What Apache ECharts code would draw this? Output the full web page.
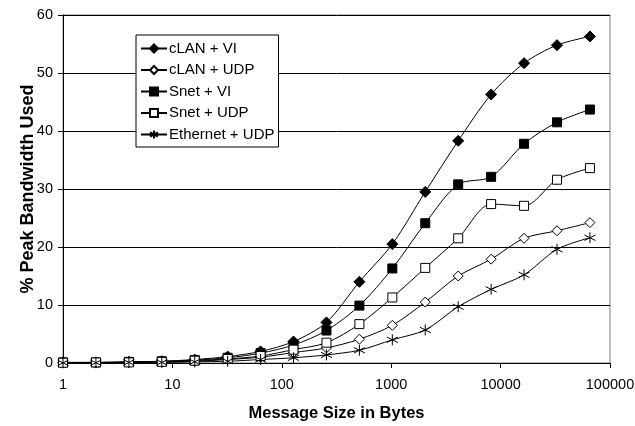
<!DOCTYPE html>
<html>
<head>
<meta charset="utf-8">
<script src="https://cdn.jsdelivr.net/npm/echarts@6/dist/echarts.min.js"></script>
<style>
  html, body { margin: 0; padding: 0; background: #fff; }
  #chart { width: 635px; height: 426px; }
</style>
</head>
<body>
<div id="chart"></div>
<script>
// Message sizes (bytes), powers of two from 1 to 64K
const sizes = [1, 2, 4, 8, 16, 32, 64, 128, 256, 512, 1024, 2048, 4096, 8192, 16384, 32768, 65536];

// % of peak bandwidth used for each transport
const clanVI     = [0.1, 0.1, 0.2, 0.3, 0.6, 1.1, 2.0, 3.7, 7.0, 14.0, 20.5, 29.5, 38.3, 46.3, 51.7, 54.8, 56.3];
const clanUDP    = [0.05, 0.05, 0.1, 0.2, 0.3, 0.6, 1.0, 1.8, 2.6, 4.1, 6.5, 10.5, 15.0, 17.9, 21.5, 22.8, 24.2];
const snetVI     = [0.1, 0.1, 0.2, 0.3, 0.5, 0.9, 1.7, 3.1, 5.6, 9.9, 16.3, 24.1, 30.8, 32.1, 37.8, 41.5, 43.7];
const snetUDP    = [0.05, 0.1, 0.1, 0.2, 0.4, 0.7, 1.2, 2.3, 3.5, 6.7, 11.3, 16.4, 21.5, 27.4, 27.1, 31.6, 33.6];
const etherUDP   = [0.03, 0.05, 0.1, 0.1, 0.2, 0.3, 0.6, 0.9, 1.4, 2.2, 4.0, 5.7, 9.7, 12.7, 15.2, 19.6, 21.6];

const seriesNames = ['cLAN + VI', 'cLAN + UDP', 'Snet + VI', 'Snet + UDP', 'Ethernet + UDP'];

const FONT = 'Liberation Sans, Arial, sans-serif';
const asterisk = 'path://M0,-5L0,5M-4.33,-2.5L4.33,2.5M-4.33,2.5L4.33,-2.5';

function pairs(vals) {
  return sizes.map((s, i) => [s, vals[i]]);
}

function lineSeries(name, vals, symbol, size, fill) {
  return {
    name: name,
    type: 'line',
    data: pairs(vals),
    smooth: 0.3,
    symbol: symbol,
    symbolSize: size,
    showAllSymbol: true,
    lineStyle: { color: '#000', width: 1 },
    itemStyle: { color: fill, borderColor: '#000', borderWidth: 1 },
    emphasis: { disabled: true },
    z: 3
  };
}

const chart = echarts.init(document.getElementById('chart'), null, { renderer: 'canvas' });

chart.setOption({
  animation: false,
  backgroundColor: '#fff',
  textStyle: { fontFamily: FONT, color: '#000' },
  grid: {
    left: 63, right: 25, top: 15, bottom: 63,
    outerBoundsMode: 'none',
    containLabel: false,
    show: true, borderColor: '#808080', borderWidth: 1, backgroundColor: 'transparent'
  },
  legend: {
    orient: 'vertical',
    left: 136, top: 35,
    data: seriesNames,
    backgroundColor: '#fff',
    borderColor: '#000',
    borderWidth: 1,
    padding: [6, 4, 5, 4],
    itemGap: 6.5,
    itemWidth: 26,
    itemHeight: 10,
    textStyle: { fontFamily: FONT, fontSize: 15, color: '#000', padding: [0, 0, 0, -3] }
  },
  xAxis: {
    type: 'log',
    logBase: 10,
    min: 1,
    max: 100000,
    name: 'Message Size in Bytes',
    nameLocation: 'middle',
    nameGap: 42,
    nameTextStyle: { fontFamily: FONT, fontSize: 16.5, fontWeight: 'bold', color: '#000' },
    axisLine: { lineStyle: { color: '#000', width: 1 } },
    axisTick: { show: true, inside: false, length: 5, lineStyle: { color: '#000' } },
    minorTick: { show: false },
    axisLabel: {
      fontFamily: FONT, fontSize: 14.5, color: '#000', margin: 14,
      formatter: v => String(Math.round(v))
    },
    splitLine: { show: false }
  },
  yAxis: {
    type: 'value',
    min: 0,
    max: 60,
    interval: 10,
    name: '% Peak Bandwidth Used',
    nameLocation: 'middle',
    nameGap: 26,
    nameMoveOverlap: false,
    nameTextStyle: { fontFamily: FONT, fontSize: 18, fontWeight: 'bold', color: '#000' },
    axisLine: { show: true, lineStyle: { color: '#000', width: 1 } },
    axisTick: { show: true, inside: false, length: 5, lineStyle: { color: '#000' } },
    axisLabel: { fontFamily: FONT, fontSize: 14.5, color: '#000', margin: 10 },
    splitLine: { show: true, lineStyle: { color: '#000', width: 1 } }
  },
  series: [
    lineSeries(seriesNames[0], clanVI, 'diamond', 11, '#000'),
    lineSeries(seriesNames[1], clanUDP, 'diamond', 10, '#fff'),
    lineSeries(seriesNames[2], snetVI, 'rect', 9, '#000'),
    lineSeries(seriesNames[3], snetUDP, 'rect', 9, '#fff'),
    lineSeries(seriesNames[4], etherUDP, asterisk, 11, 'none')
  ]
});
</script>
</body>
</html>
